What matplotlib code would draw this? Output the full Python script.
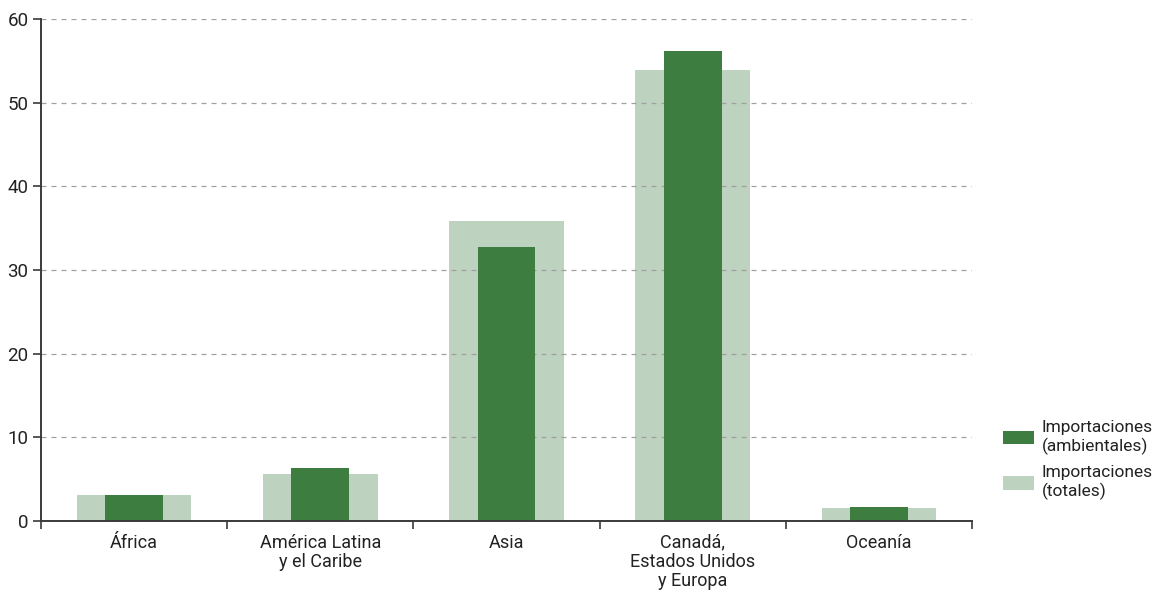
import numpy as np
import matplotlib
matplotlib.use('Agg')
import matplotlib.pyplot as plt
from matplotlib.patches import Patch

plt.rcParams['font.family'] = ['Roboto', 'DejaVu Sans']

# ── Data ─────────────────────────────────────────────────────────────────────
regions = ['África', 'América Latina\ny el Caribe', 'Asia',
           'Canadá,\nEstados Unidos\ny Europa', 'Oceanía']
imp_ambientales = [3.1, 6.3, 32.7, 56.2, 1.7]
imp_totales     = [3.1, 5.6, 35.9, 53.9, 1.5]
yticks = [0, 10, 20, 30, 40, 50, 60]

C_DARK  = '#3e7d40'
C_LIGHT = '#bdd3bf'
C_AXIS  = '#3a3a3a'

fig = plt.figure(figsize=(11.63, 5.93), dpi=100)
ax = fig.add_axes([41/1163, 1 - 521/593, (972 - 41)/1163, (521 - 19)/593])

x = np.arange(len(regions))
ax.bar(x, imp_totales, width=0.615, color=C_LIGHT, zorder=1)
ax.bar(x, imp_ambientales, width=0.31, color=C_DARK, zorder=3)

ax.set_xlim(-0.5, len(regions) - 0.5)
ax.set_ylim(0, 60)
ax.set_yticks(yticks)
ax.yaxis.grid(True, ls=(0, (4, 4)), color='#a0a0a0', lw=0.9, zorder=2)
ax.set_axisbelow(False)

ax.set_xticks(x)
ax.set_xticklabels(regions, fontsize=13, color='#222222', linespacing=1.1)
ax.tick_params(axis='x', which='major', length=0, pad=9)
ax.set_xticks(np.arange(-0.5, len(regions)), minor=True)
ax.tick_params(axis='x', which='minor', length=6, width=1.2, color=C_AXIS)
ax.tick_params(axis='y', length=6, width=1.2, color=C_AXIS, labelsize=13.5,
               labelcolor='#222222', pad=3)

for s in ['top', 'right']:
    ax.spines[s].set_visible(False)
for s in ['left', 'bottom']:
    ax.spines[s].set_color(C_AXIS)
    ax.spines[s].set_linewidth(1.4)
    ax.spines[s].set_zorder(4)

handles = [Patch(facecolor=C_DARK, label='Importaciones\n(ambientales)'),
           Patch(facecolor=C_LIGHT, label='Importaciones\n(totales)')]
leg = fig.legend(handles=handles, loc='upper left', bbox_to_anchor=(987/1163, 1 - 404/593),
                 frameon=False, fontsize=12.5, handlelength=1.8, handleheight=0.85,
                 handletextpad=0.45, labelspacing=0.55, labelcolor='#222222')
for t in leg.get_texts():
    t.set_linespacing(1.25)

plt.savefig('out.png', dpi=100)
